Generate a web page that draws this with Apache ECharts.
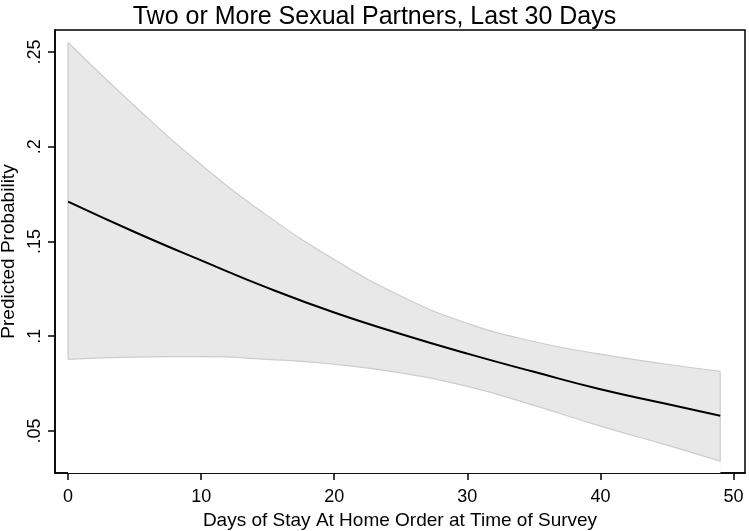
<!DOCTYPE html>
<html>
<head>
<meta charset="utf-8">
<script src="https://cdn.jsdelivr.net/npm/echarts@6/dist/echarts.min.js"></script>
<style>html,body{margin:0;padding:0;background:#fff;}#c{width:749px;height:531px;}</style>
</head>
<body>
<div id="c"></div>
<script>
const days  = [0, 5, 10, 15, 20, 25, 30, 35, 40, 45, 49];
const pred  = [0.171, 0.155, 0.140, 0.1255, 0.1125, 0.1012, 0.0908, 0.0812, 0.0720, 0.0642, 0.058];
const upper = [0.255, 0.2215, 0.1905, 0.1635, 0.1405, 0.1212, 0.1068, 0.0972, 0.0905, 0.0852, 0.0814];
const lower = [0.0878, 0.0890, 0.0892, 0.0878, 0.0852, 0.0806, 0.0735, 0.0635, 0.0525, 0.0425, 0.034];
const xTicks = [0, 10, 20, 30, 40, 50];
const yTicks = [0.05, 0.1, 0.15, 0.2, 0.25];

const font = '"Liberation Sans", Arial, Helvetica, sans-serif';
const chart = echarts.init(document.getElementById('c'), null, {renderer: 'canvas'});
const n = days.length;
const bandCol = '#e8e8e8', edgeCol = '#cccccc';

chart.setOption({
  animation: false,
  backgroundColor: '#fff',
  title: {
    text: 'Two or More Sexual Partners, Last 30 Days',
    left: 'center', top: 0,
    textStyle: {fontFamily: font, fontSize: 25, fontWeight: 'normal', color: '#000'}
  },
  grid: {left: 55, right: 4, top: 30, bottom: 58, containLabel: false, outerBoundsMode: 'none',
         show: true, borderColor: '#000', borderWidth: 1.5, backgroundColor: 'transparent'},
  xAxis: {
    type: 'value', min: -0.98, max: 50.86,
    name: 'Days of Stay At Home Order at Time of Survey',
    nameLocation: 'middle', nameGap: 31,
    nameTextStyle: {fontFamily: font, fontSize: 19, color: '#000'},
    axisLine: {show: true, onZero: false, lineStyle: {color: '#000', width: 1.5}},
    axisTick: {show: true, length: 7, lineStyle: {color: '#000', width: 1.5}, customValues: xTicks},
    axisLabel: {fontFamily: font, fontSize: 18, color: '#000', margin: 15, customValues: xTicks},
    splitLine: {show: false}
  },
  yAxis: {
    type: 'value', min: 0.0278, max: 0.2616,
    name: 'Predicted Probability',
    nameLocation: 'middle', nameGap: 30,
    nameTextStyle: {fontFamily: font, fontSize: 19, color: '#000'},
    axisLine: {show: true, onZero: false, lineStyle: {color: '#000', width: 1.5}},
    axisTick: {show: true, length: 7, lineStyle: {color: '#000', width: 1.5}, customValues: yTicks},
    axisLabel: {
      fontFamily: font, fontSize: 18, color: '#000', rotate: 90, margin: 11,
      customValues: yTicks,
      formatter: v => String(+v.toFixed(3)).replace(/^0/, '')
    },
    splitLine: {show: false}
  },
  series: [
    {
      name: 'hi', type: 'line', smooth: true, symbol: 'none', z: 2,
      data: days.map((d, i) => [d, upper[i]]),
      lineStyle: {color: edgeCol, width: 1.2},
      areaStyle: {color: bandCol, opacity: 1, origin: 'start'}
    },
    {
      name: 'lo', type: 'line', smooth: true, symbol: 'none', z: 3,
      data: days.map((d, i) => [d, lower[i]]),
      lineStyle: {color: edgeCol, width: 1.2},
      areaStyle: {color: '#ffffff', opacity: 1, origin: 'start'}
    },
    {
      name: 'edgeL', type: 'line', symbol: 'none', z: 4,
      data: [[days[0], lower[0]], [days[0], upper[0]]],
      lineStyle: {color: edgeCol, width: 1.2}
    },
    {
      name: 'edgeR', type: 'line', symbol: 'none', z: 4,
      data: [[days[n-1], lower[n-1]], [days[n-1], upper[n-1]]],
      lineStyle: {color: edgeCol, width: 1.2}
    },
    {
      name: 'pred', type: 'line', smooth: true, symbol: 'none', z: 5,
      data: days.map((d, i) => [d, pred[i]]),
      lineStyle: {color: '#000', width: 2}
    }
  ]
});
</script>
</body>
</html>
